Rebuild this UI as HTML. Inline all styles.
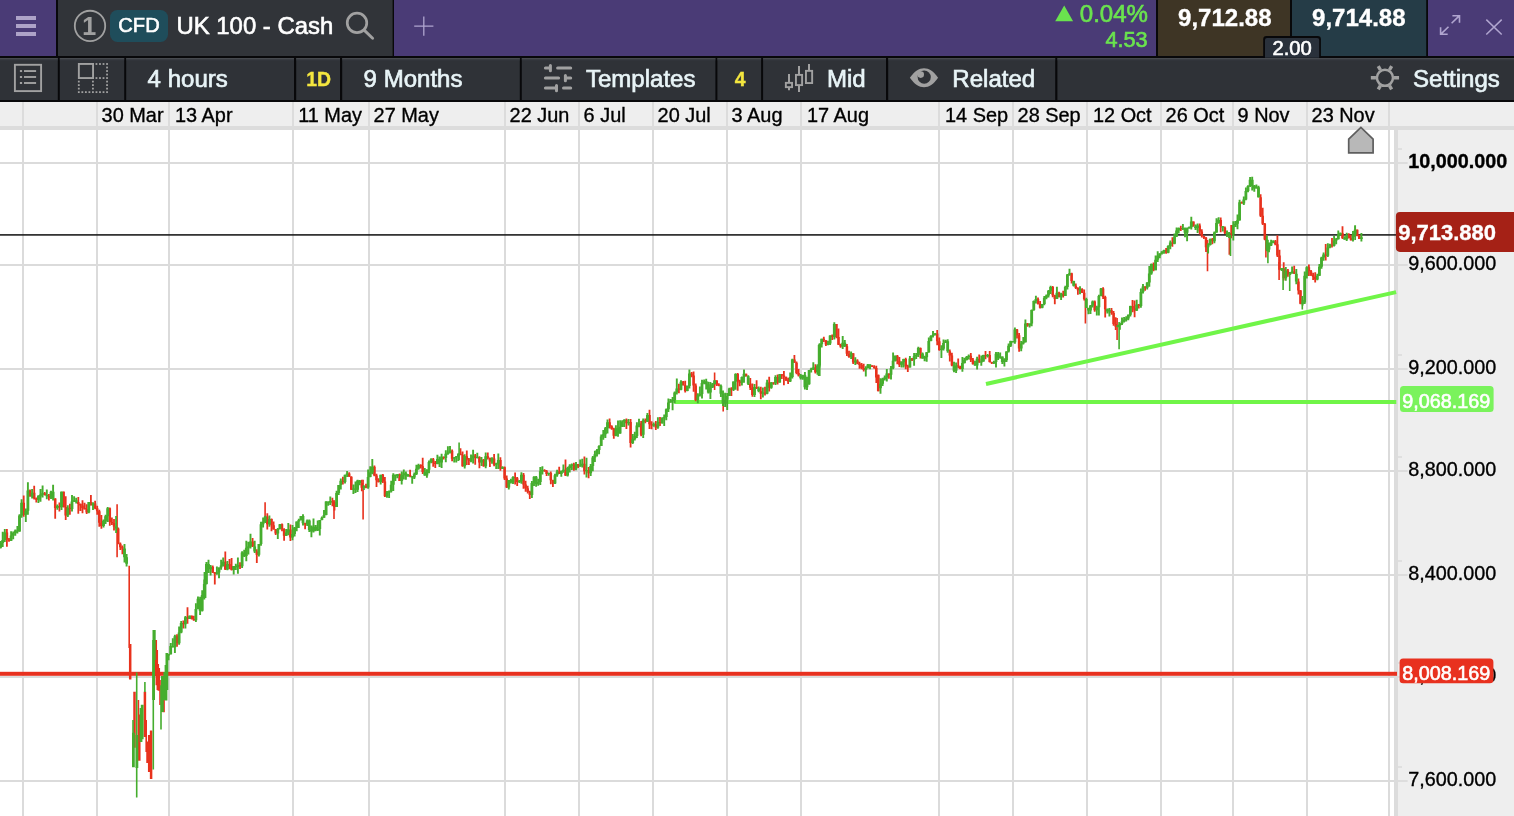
<!DOCTYPE html>
<html lang="en">
<head>
<meta charset="utf-8">
<title>UK 100 - Cash</title>
<style>
html,body{margin:0;padding:0;background:#ffffff;}
body{width:1514px;height:816px;overflow:hidden;position:relative;font-family:"Liberation Sans",Arial,Helvetica,sans-serif;}
</style>
</head>
<body>
<svg width="1514" height="816" viewBox="0 0 1514 816" style="position:absolute;left:0;top:0;display:block" font-family="Liberation Sans, Arial, Helvetica, sans-serif">
<rect x="0" y="0" width="1514" height="816" fill="#ffffff"/>
<rect x="0" y="0" width="1514" height="58" fill="#08080a"/>
<rect x="0" y="0" width="56" height="56" fill="#4a3b76"/>
<rect x="58" y="0" width="334.6" height="56" fill="#313439"/>
<rect x="394" y="0" width="762" height="56" fill="#4a3b76"/>
<rect x="1158" y="0" width="132" height="56" fill="#3e3525"/>
<rect x="1292" y="0" width="134.2" height="56" fill="#253c47"/>
<rect x="1428" y="0" width="86" height="56" fill="#4a3b76"/>
<rect x="16" y="16" width="20" height="4" fill="#aea3c8"/>
<rect x="16" y="24" width="20" height="4" fill="#aea3c8"/>
<rect x="16" y="32" width="20" height="4" fill="#aea3c8"/>
<circle cx="90" cy="25.95" r="15.2" fill="none" stroke="#a1a1a1" stroke-width="1.8"/>
<text stroke="#a1a1a1" x="89.2" y="35.0" font-size="25" font-weight="bold" fill="#a1a1a1" text-anchor="middle" stroke-width="0.1">1</text>
<rect x="110" y="10" width="58" height="32" rx="7.5" fill="#1f4d5b"/>
<text stroke="#ffffff" stroke-width="0.6" x="139" y="32.05" font-size="20.1" fill="#ffffff" text-anchor="middle">CFD</text>
<text stroke="#ffffff" stroke-width="0.6" x="176.5" y="34.2" font-size="23.9" fill="#ffffff">UK 100 - Cash</text>
<circle cx="357" cy="22.9" r="9.75" fill="none" stroke="#a1a1a1" stroke-width="2.7"/>
<path d="M364.4 30.4L372.6 38.2" stroke="#a1a1a1" stroke-width="2.9" stroke-linecap="round" fill="none"/>
<path d="M414.2 26.2H433.4M423.8 16.6V35.8" stroke="#b0a5cf" stroke-width="1.3" fill="none"/>
<path d="M1055.2 21.2L1064.2 5.6L1073.1 21.2Z" fill="#6ae34e"/>
<text stroke="#6ae34e" stroke-width="0.65" x="1148.0" y="21.9" font-size="24.05" fill="#6ae34e" text-anchor="end">0.04%</text>
<text stroke="#6ae34e" stroke-width="0.65" x="1147.6" y="47.3" font-size="21.7" fill="#6ae34e" text-anchor="end">4.53</text>
<text stroke="#ffffff" stroke-width="0.35" x="1224.8" y="25.9" font-size="24" font-weight="bold" fill="#ffffff" text-anchor="middle">9,712.88</text>
<text stroke="#ffffff" stroke-width="0.35" x="1358.8" y="25.9" font-size="24" font-weight="bold" fill="#ffffff" text-anchor="middle">9,714.88</text>
<path d="M1263.2 58V39.2Q1263.2 36 1266.4 36H1317.7Q1320.9 36 1320.9 39.2V58Z" fill="#08080a"/>
<path d="M1265 57.8V40Q1265 38 1267 38H1317.2Q1319.2 38 1319.2 40V57.8Z" fill="#2a313b"/>
<text stroke="#ffffff" stroke-width="0.6" x="1292.1" y="55.0" font-size="20.2" fill="#ffffff" text-anchor="middle">2.00</text>
<path d="M1451.6 23.3L1459.2 15.9M1452.4 15.7H1459.5V22.8M1448.5 26.7L1440.9 34.1M1440.6 27.2V34.3H1447.7" stroke="#b0a5cf" stroke-width="1.6" fill="none"/>
<path d="M1486.3 19.6L1501.7 34.5M1501.7 19.6L1486.3 34.5" stroke="#b0a5cf" stroke-width="1.5" fill="none"/>
<rect x="0" y="58" width="1514" height="44" fill="#08080a"/>
<rect x="0" y="58" width="57.8" height="42" fill="#2f3237"/>
<rect x="0" y="58" width="57.8" height="1.3" fill="#46494e"/>
<rect x="0" y="59.3" width="57.8" height="1" fill="#3b3e43"/>
<rect x="59.8" y="58" width="64.4" height="42" fill="#2f3237"/>
<rect x="59.8" y="58" width="64.4" height="1.3" fill="#46494e"/>
<rect x="59.8" y="59.3" width="64.4" height="1" fill="#3b3e43"/>
<rect x="126.2" y="58" width="167.8" height="42" fill="#2f3237"/>
<rect x="126.2" y="58" width="167.8" height="1.3" fill="#46494e"/>
<rect x="126.2" y="59.3" width="167.8" height="1" fill="#3b3e43"/>
<rect x="296.2" y="58" width="43.8" height="42" fill="#2f3237"/>
<rect x="296.2" y="58" width="43.8" height="1.3" fill="#46494e"/>
<rect x="296.2" y="59.3" width="43.8" height="1" fill="#3b3e43"/>
<rect x="342.2" y="58" width="177.6" height="42" fill="#2f3237"/>
<rect x="342.2" y="58" width="177.6" height="1.3" fill="#46494e"/>
<rect x="342.2" y="59.3" width="177.6" height="1" fill="#3b3e43"/>
<rect x="521.8" y="58" width="193.6" height="42" fill="#2f3237"/>
<rect x="521.8" y="58" width="193.6" height="1.3" fill="#46494e"/>
<rect x="521.8" y="59.3" width="193.6" height="1" fill="#3b3e43"/>
<rect x="717.4" y="58" width="43.7" height="42" fill="#2f3237"/>
<rect x="717.4" y="58" width="43.7" height="1.3" fill="#46494e"/>
<rect x="717.4" y="59.3" width="43.7" height="1" fill="#3b3e43"/>
<rect x="763.1" y="58" width="122.9" height="42" fill="#2f3237"/>
<rect x="763.1" y="58" width="122.9" height="1.3" fill="#46494e"/>
<rect x="763.1" y="59.3" width="122.9" height="1" fill="#3b3e43"/>
<rect x="888.2" y="58" width="167.0" height="42" fill="#2f3237"/>
<rect x="888.2" y="58" width="167.0" height="1.3" fill="#46494e"/>
<rect x="888.2" y="59.3" width="167.0" height="1" fill="#3b3e43"/>
<rect x="1057.4" y="58" width="456.6" height="42" fill="#2f3237"/>
<rect x="1057.4" y="58" width="456.6" height="1.3" fill="#46494e"/>
<rect x="1057.4" y="59.3" width="456.6" height="1" fill="#3b3e43"/>
<rect x="14.9" y="64.8" width="26.2" height="26.3" fill="none" stroke="#a1a1a1" stroke-width="1.9"/>
<rect x="19.9" y="70.05" width="2.2" height="2" fill="#a1a1a1"/>
<rect x="24" y="70.10" width="12.1" height="1.9" fill="#a1a1a1"/>
<rect x="19.9" y="76.00" width="2.2" height="2" fill="#a1a1a1"/>
<rect x="24" y="76.05" width="12.1" height="1.9" fill="#a1a1a1"/>
<rect x="19.9" y="82.00" width="2.2" height="2" fill="#a1a1a1"/>
<rect x="24" y="82.05" width="12.1" height="1.9" fill="#a1a1a1"/>
<rect x="78.85" y="63.95" width="14.2" height="14.1" fill="none" stroke="#a1a1a1" stroke-width="1.9"/>
<rect x="77.90" y="80.68" width="1.8" height="1.8" fill="#a1a1a1"/>
<rect x="77.90" y="84.20" width="1.8" height="1.8" fill="#a1a1a1"/>
<rect x="77.90" y="87.71" width="1.8" height="1.8" fill="#a1a1a1"/>
<rect x="77.90" y="91.23" width="1.8" height="1.8" fill="#a1a1a1"/>
<rect x="81.43" y="91.23" width="1.8" height="1.8" fill="#a1a1a1"/>
<rect x="84.96" y="91.23" width="1.8" height="1.8" fill="#a1a1a1"/>
<rect x="88.49" y="91.23" width="1.8" height="1.8" fill="#a1a1a1"/>
<rect x="92.02" y="80.68" width="1.8" height="1.8" fill="#a1a1a1"/>
<rect x="92.02" y="84.20" width="1.8" height="1.8" fill="#a1a1a1"/>
<rect x="92.02" y="87.71" width="1.8" height="1.8" fill="#a1a1a1"/>
<rect x="92.02" y="91.23" width="1.8" height="1.8" fill="#a1a1a1"/>
<rect x="95.55" y="63.10" width="1.8" height="1.8" fill="#a1a1a1"/>
<rect x="95.55" y="77.16" width="1.8" height="1.8" fill="#a1a1a1"/>
<rect x="95.55" y="91.23" width="1.8" height="1.8" fill="#a1a1a1"/>
<rect x="99.08" y="63.10" width="1.8" height="1.8" fill="#a1a1a1"/>
<rect x="99.08" y="77.16" width="1.8" height="1.8" fill="#a1a1a1"/>
<rect x="99.08" y="91.23" width="1.8" height="1.8" fill="#a1a1a1"/>
<rect x="102.61" y="63.10" width="1.8" height="1.8" fill="#a1a1a1"/>
<rect x="102.61" y="77.16" width="1.8" height="1.8" fill="#a1a1a1"/>
<rect x="102.61" y="91.23" width="1.8" height="1.8" fill="#a1a1a1"/>
<rect x="106.14" y="63.10" width="1.8" height="1.8" fill="#a1a1a1"/>
<rect x="106.14" y="66.62" width="1.8" height="1.8" fill="#a1a1a1"/>
<rect x="106.14" y="70.13" width="1.8" height="1.8" fill="#a1a1a1"/>
<rect x="106.14" y="73.65" width="1.8" height="1.8" fill="#a1a1a1"/>
<rect x="106.14" y="77.16" width="1.8" height="1.8" fill="#a1a1a1"/>
<rect x="106.14" y="80.68" width="1.8" height="1.8" fill="#a1a1a1"/>
<rect x="106.14" y="84.20" width="1.8" height="1.8" fill="#a1a1a1"/>
<rect x="106.14" y="87.71" width="1.8" height="1.8" fill="#a1a1a1"/>
<rect x="106.14" y="91.23" width="1.8" height="1.8" fill="#a1a1a1"/>
<text stroke="#e8f4f7" stroke-width="0.65" x="147.6" y="86.9" font-size="24.05" fill="#e8f4f7">4 hours</text>
<text stroke="#f4e63f" stroke-width="0.35" x="318.6" y="85.8" font-size="19.4" font-weight="bold" fill="#f4e63f" text-anchor="middle">1D</text>
<text stroke="#e8f4f7" stroke-width="0.65" x="363.6" y="86.9" font-size="24.05" fill="#e8f4f7">9 Months</text>
<path d="M545.4 68H550.4M550.4 65.4V70.7M557.6 68H570.7 M545.4 78H558.6M565.4 75.4V80.7M565.4 78H570.7 M545.4 88.1H556.5M556.5 85.5V90.7M563.5 88.1H570.7" stroke="#a1a1a1" stroke-width="3.0" stroke-linecap="round" fill="none"/>
<text stroke="#e8f4f7" stroke-width="0.65" x="585.9" y="86.9" font-size="24.05" fill="#e8f4f7">Templates</text>
<text stroke="#f4e63f" stroke-width="0.35" x="740.2" y="85.8" font-size="19.4" font-weight="bold" fill="#f4e63f" text-anchor="middle">4</text>
<rect x="785.85" y="82.85" width="6.2" height="4.3" fill="none" stroke="#a1a1a1" stroke-width="1.9"/>
<rect x="795.95" y="74.9" width="6.15" height="10.2" fill="none" stroke="#a1a1a1" stroke-width="1.9"/>
<rect x="805.95" y="70.85" width="6.2" height="12.2" fill="none" stroke="#a1a1a1" stroke-width="1.9"/>
<path d="M789 73.95V82M789 88V90.2M799 66V74M799 86V92M809 63.9V70" stroke="#a1a1a1" stroke-width="2" fill="none"/>
<text stroke="#e8f4f7" stroke-width="0.65" x="827" y="86.9" font-size="24.05" fill="#e8f4f7">Mid</text>
<path d="M909.9 77.8C914.5 71 919 68.3 924 68.3C929 68.3 933.5 71 938.1 77.8C933.5 84.6 929 87.3 924 87.3C919 87.3 914.5 84.6 909.9 77.8Z" fill="#a1a1a1"/>
<circle cx="924.2" cy="77.05" r="6.6" fill="#2f3237"/>
<circle cx="920.7" cy="74.6" r="3.3" fill="#a1a1a1"/>
<text stroke="#e8f4f7" stroke-width="0.65" x="952.3" y="86.9" font-size="24.05" fill="#e8f4f7">Related</text>
<circle cx="1384.95" cy="77.8" r="8.05" fill="none" stroke="#a1a1a1" stroke-width="2.5"/>
<path d="M1393.95 77.80L1399.05 77.80M1389.45 85.59L1391.65 89.40M1380.45 85.59L1378.25 89.40M1375.95 77.80L1370.85 77.80M1380.45 70.01L1378.25 66.20M1389.45 70.01L1391.65 66.20" stroke="#a1a1a1" stroke-width="3.4" fill="none"/>
<text stroke="#e8f4f7" stroke-width="0.65" x="1413.0" y="86.9" font-size="24.05" fill="#e8f4f7">Settings</text>
<rect x="0" y="102" width="1514" height="24" fill="#eeeeee"/>
<rect x="0" y="126" width="1514" height="4" fill="#dcdcdc"/>
<rect x="1398" y="130" width="116" height="686" fill="#eeeeee"/>
<rect x="1394" y="130" width="4" height="686" fill="#dcdcdc"/>
<rect x="22.0" y="102" width="2" height="24" fill="#dcdcdc"/>
<rect x="22.0" y="130" width="2" height="686" fill="#dbdbdb"/>
<rect x="96.0" y="102" width="2" height="24" fill="#dcdcdc"/>
<rect x="96.0" y="130" width="2" height="686" fill="#dbdbdb"/>
<rect x="168.0" y="102" width="2" height="24" fill="#dcdcdc"/>
<rect x="168.0" y="130" width="2" height="686" fill="#dbdbdb"/>
<rect x="292.0" y="102" width="2" height="24" fill="#dcdcdc"/>
<rect x="292.0" y="130" width="2" height="686" fill="#dbdbdb"/>
<rect x="368.0" y="102" width="2" height="24" fill="#dcdcdc"/>
<rect x="368.0" y="130" width="2" height="686" fill="#dbdbdb"/>
<rect x="504.0" y="102" width="2" height="24" fill="#dcdcdc"/>
<rect x="504.0" y="130" width="2" height="686" fill="#dbdbdb"/>
<rect x="578.0" y="102" width="2" height="24" fill="#dcdcdc"/>
<rect x="578.0" y="130" width="2" height="686" fill="#dbdbdb"/>
<rect x="652.0" y="102" width="2" height="24" fill="#dcdcdc"/>
<rect x="652.0" y="130" width="2" height="686" fill="#dbdbdb"/>
<rect x="726.0" y="102" width="2" height="24" fill="#dcdcdc"/>
<rect x="726.0" y="130" width="2" height="686" fill="#dbdbdb"/>
<rect x="800.0" y="102" width="2" height="24" fill="#dcdcdc"/>
<rect x="800.0" y="130" width="2" height="686" fill="#dbdbdb"/>
<rect x="938.0" y="102" width="2" height="24" fill="#dcdcdc"/>
<rect x="938.0" y="130" width="2" height="686" fill="#dbdbdb"/>
<rect x="1012.0" y="102" width="2" height="24" fill="#dcdcdc"/>
<rect x="1012.0" y="130" width="2" height="686" fill="#dbdbdb"/>
<rect x="1086.0" y="102" width="2" height="24" fill="#dcdcdc"/>
<rect x="1086.0" y="130" width="2" height="686" fill="#dbdbdb"/>
<rect x="1160.0" y="102" width="2" height="24" fill="#dcdcdc"/>
<rect x="1160.0" y="130" width="2" height="686" fill="#dbdbdb"/>
<rect x="1232.0" y="102" width="2" height="24" fill="#dcdcdc"/>
<rect x="1232.0" y="130" width="2" height="686" fill="#dbdbdb"/>
<rect x="1306.0" y="102" width="2" height="24" fill="#dcdcdc"/>
<rect x="1306.0" y="130" width="2" height="686" fill="#dbdbdb"/>
<rect x="1388.0" y="102" width="2" height="24" fill="#dcdcdc"/>
<rect x="1388.0" y="130" width="2" height="686" fill="#dbdbdb"/>
<rect x="0" y="162" width="1394" height="2" fill="#dbdbdb"/>
<rect x="1398" y="162" width="9.6" height="2" fill="#dddddd"/>
<rect x="1398" y="148" width="4" height="2" fill="#dfdfdf"/>
<rect x="0" y="264" width="1394" height="2" fill="#dbdbdb"/>
<rect x="1398" y="264" width="9.6" height="2" fill="#dddddd"/>
<rect x="1398" y="250" width="4" height="2" fill="#dfdfdf"/>
<rect x="0" y="368" width="1394" height="2" fill="#dbdbdb"/>
<rect x="1398" y="368" width="9.6" height="2" fill="#dddddd"/>
<rect x="1398" y="354" width="4" height="2" fill="#dfdfdf"/>
<rect x="0" y="470" width="1394" height="2" fill="#dbdbdb"/>
<rect x="1398" y="470" width="9.6" height="2" fill="#dddddd"/>
<rect x="1398" y="456" width="4" height="2" fill="#dfdfdf"/>
<rect x="0" y="574" width="1394" height="2" fill="#dbdbdb"/>
<rect x="1398" y="574" width="9.6" height="2" fill="#dddddd"/>
<rect x="1398" y="560" width="4" height="2" fill="#dfdfdf"/>
<rect x="0" y="676" width="1394" height="2" fill="#dbdbdb"/>
<rect x="1398" y="676" width="9.6" height="2" fill="#dddddd"/>
<rect x="1398" y="662" width="4" height="2" fill="#dfdfdf"/>
<rect x="0" y="780" width="1394" height="2" fill="#dbdbdb"/>
<rect x="1398" y="780" width="9.6" height="2" fill="#dddddd"/>
<rect x="1398" y="766" width="4" height="2" fill="#dfdfdf"/>
<text stroke="#000000" stroke-width="0.35" x="101.6" y="121.6" font-size="19.9" fill="#000000">30 Mar</text>
<text stroke="#000000" stroke-width="0.35" x="175.0" y="121.6" font-size="19.9" fill="#000000">13 Apr</text>
<text stroke="#000000" stroke-width="0.35" x="298.2" y="121.6" font-size="19.9" fill="#000000">11 May</text>
<text stroke="#000000" stroke-width="0.35" x="373.6" y="121.6" font-size="19.9" fill="#000000">27 May</text>
<text stroke="#000000" stroke-width="0.35" x="509.6" y="121.6" font-size="19.9" fill="#000000">22 Jun</text>
<text stroke="#000000" stroke-width="0.35" x="583.6" y="121.6" font-size="19.9" fill="#000000">6 Jul</text>
<text stroke="#000000" stroke-width="0.35" x="657.6" y="121.6" font-size="19.9" fill="#000000">20 Jul</text>
<text stroke="#000000" stroke-width="0.35" x="731.6" y="121.6" font-size="19.9" fill="#000000">3 Aug</text>
<text stroke="#000000" stroke-width="0.35" x="807.0" y="121.6" font-size="19.9" fill="#000000">17 Aug</text>
<text stroke="#000000" stroke-width="0.35" x="945.0" y="121.6" font-size="19.9" fill="#000000">14 Sep</text>
<text stroke="#000000" stroke-width="0.35" x="1017.6" y="121.6" font-size="19.9" fill="#000000">28 Sep</text>
<text stroke="#000000" stroke-width="0.35" x="1093.0" y="121.6" font-size="19.9" fill="#000000">12 Oct</text>
<text stroke="#000000" stroke-width="0.35" x="1165.6" y="121.6" font-size="19.9" fill="#000000">26 Oct</text>
<text stroke="#000000" stroke-width="0.35" x="1237.6" y="121.6" font-size="19.9" fill="#000000">9 Nov</text>
<text stroke="#000000" stroke-width="0.35" x="1311.6" y="121.6" font-size="19.9" fill="#000000">23 Nov</text>
<text stroke="#000000" stroke-width="0.35" x="1408.2" y="167.8" font-size="19.8" fill="#000000" font-weight="bold">10,000.000</text>
<text stroke="#000000" stroke-width="0.35" x="1408.2" y="269.8" font-size="19.8" fill="#000000">9,600.000</text>
<text stroke="#000000" stroke-width="0.35" x="1408.2" y="373.8" font-size="19.8" fill="#000000">9,200.000</text>
<text stroke="#000000" stroke-width="0.35" x="1408.2" y="475.8" font-size="19.8" fill="#000000">8,800.000</text>
<text stroke="#000000" stroke-width="0.35" x="1408.2" y="579.8" font-size="19.8" fill="#000000">8,400.000</text>
<text stroke="#000000" stroke-width="0.35" x="1408.2" y="681.8" font-size="19.8" fill="#000000">8,000.000</text>
<text stroke="#000000" stroke-width="0.35" x="1408.2" y="785.8" font-size="19.8" fill="#000000">7,600.000</text>
<path d="M1348.7 152.9V139.2L1360.9 127.4L1373.1 139.2V152.9Z" fill="#b8b8b8" stroke="#5e5e5e" stroke-width="1.7"/>
<rect x="0" y="234.1" width="1397" height="1.6" fill="#1e1e1e"/>
<rect x="674.3" y="400.0" width="722" height="4" fill="#70f548"/>
<path d="M986 384L1396.1 292.1" stroke="#70f548" stroke-width="4.0" fill="none"/>
<rect x="0" y="671.8" width="1397" height="4" fill="#e8311f"/>
<defs><filter id="soft" x="-2%" y="-2%" width="104%" height="104%"><feGaussianBlur stdDeviation="0.42"/></filter></defs>
<g filter="url(#soft)">
<path d="M6.9 528.9V546.7M9.0 537.9V541.7M23.7 495.5V516.7M30.0 489.6V496.6M34.2 485.7V499.4M36.3 497.4V502.4M44.7 491.9V495.6M48.9 494.1V500.5M55.2 498.3V518.7M59.4 502.6V511.6M63.6 491.5V507.6M65.7 496.3V520.0M69.9 503.8V514.8M78.3 496.9V513.7M80.4 503.5V511.0M82.5 500.3V513.3M84.6 502.8V509.5M86.7 504.3V513.9M90.9 495.1V505.4M95.1 500.7V509.3M97.2 505.7V514.8M99.3 509.7V526.7M101.4 515.1V528.8M109.8 507.6V525.7M111.9 517.6V525.1M114.0 519.0V530.4M118.2 527.4V544.2M120.3 542.4V549.9M122.4 545.6V554.2M177.0 634.3V646.7M183.3 620.6V628.5M187.5 607.2V623.8M191.7 615.6V619.5M193.8 615.8V620.8M212.7 565.6V572.9M214.8 571.9V584.5M225.3 551.5V570.0M229.5 559.0V569.3M231.6 558.1V570.5M240.0 562.3V569.0M252.6 537.9V547.1M256.8 549.2V563.0M267.3 513.2V529.6M271.5 518.4V531.3M273.6 521.4V529.5M275.7 529.0V535.1M282.0 523.6V531.2M284.1 528.3V540.8M290.4 524.5V540.9M305.1 522.8V529.3M332.4 497.7V506.2M334.5 501.2V510.6M342.9 476.8V484.5M349.2 472.2V476.8M351.3 476.2V490.1M361.8 479.7V491.2M366.0 483.8V488.2M374.4 465.6V476.3M376.5 473.7V487.0M378.6 478.3V482.4M382.8 474.0V483.0M384.9 476.9V497.0M399.6 473.5V481.1M410.1 469.8V477.2M420.6 464.3V468.4M422.7 457.7V474.0M433.2 458.1V466.8M435.3 461.1V467.9M443.7 456.5V459.6M452.1 449.5V461.3M460.5 448.2V455.3M462.6 451.5V466.8M466.8 450.4V464.9M468.9 458.1V465.1M475.2 453.9V464.7M479.4 456.2V468.2M483.6 459.1V466.8M487.8 452.6V459.5M489.9 457.7V466.9M494.1 454.0V466.3M500.4 457.3V470.8M504.6 466.4V479.9M506.7 475.6V488.0M515.1 472.5V484.6M517.2 476.9V485.9M523.5 473.1V488.8M525.6 480.7V491.8M527.7 485.7V493.4M529.8 490.8V499.1M544.5 469.3V471.7M546.6 469.9V476.0M550.8 471.4V484.2M552.9 479.7V487.0M559.2 466.8V474.0M565.5 459.6V475.9M573.9 462.8V470.7M578.1 464.0V468.1M584.4 456.5V474.4M588.6 466.9V478.3M609.6 418.6V428.4M611.7 425.3V429.7M613.8 427.8V438.7M626.4 418.4V429.0M630.6 418.9V447.4M641.1 420.9V436.2M645.3 418.6V423.3M649.5 409.8V429.1M651.6 421.2V429.3M655.8 421.0V430.1M660.0 416.9V425.9M678.9 383.8V393.3M683.1 381.0V385.4M685.2 380.7V392.4M691.5 372.0V377.3M693.6 371.4V391.7M695.7 383.5V401.2M716.7 380.3V386.1M718.8 383.2V386.3M731.4 387.3V396.1M737.7 373.1V390.7M739.8 379.8V386.3M746.1 373.7V376.4M750.3 378.0V390.0M752.4 383.4V396.7M756.6 380.3V389.0M760.8 386.7V399.3M765.0 386.7V395.4M769.2 376.8V391.6M773.4 382.3V384.7M777.6 374.6V384.4M781.8 374.0V379.0M783.9 371.1V385.3M786.0 376.7V381.1M788.1 377.8V384.0M794.4 354.9V362.8M796.5 361.5V374.2M798.6 368.9V376.6M815.4 364.3V373.6M823.8 336.7V342.1M825.9 340.2V346.1M832.2 334.5V340.0M836.4 323.9V338.2M838.5 328.5V345.1M840.6 343.8V347.8M846.9 344.0V356.0M849.0 350.7V357.7M853.2 353.3V364.1M857.4 359.3V364.3M859.5 361.7V368.8M861.6 363.1V369.2M863.7 363.8V371.5M872.1 365.3V367.1M874.2 365.3V368.8M876.3 365.8V382.9M878.4 374.6V391.2M888.9 373.4V378.8M897.3 355.1V364.3M899.4 357.1V366.9M905.7 357.7V369.2M907.8 364.8V372.1M912.0 358.0V361.1M920.4 347.6V358.5M937.2 330.1V345.2M939.3 337.4V350.8M949.8 349.6V361.5M951.9 352.7V366.3M958.2 358.4V368.3M960.3 365.7V369.3M970.8 353.1V362.0M972.9 358.0V364.4M979.2 354.4V362.8M985.5 351.1V359.2M989.7 350.9V362.6M991.8 361.8V363.9M1017.0 329.0V338.5M1019.1 333.1V351.8M1027.5 322.9V326.7M1038.0 297.6V304.5M1040.1 300.9V308.4M1052.7 286.1V297.3M1054.8 294.7V304.2M1059.0 291.7V297.3M1063.2 290.7V297.6M1071.6 272.8V283.5M1075.8 283.4V289.1M1077.9 287.3V294.8M1082.1 288.2V292.9M1084.2 289.6V300.4M1094.7 300.5V311.7M1103.1 287.2V298.9M1105.2 295.8V317.6M1111.5 308.1V314.7M1113.6 311.1V325.8M1115.7 317.2V330.1M1132.5 300.1V312.3M1134.6 300.4V317.2M1138.8 303.9V308.6M1145.1 286.3V290.8M1153.5 262.5V271.3M1166.1 248.0V253.8M1172.4 237.2V246.7M1180.8 225.8V231.1M1193.4 221.4V226.6M1199.7 223.6V234.6M1201.8 229.2V237.4M1203.9 235.8V239.0M1206.0 237.0V251.9M1212.3 238.1V244.3M1220.7 217.6V232.2M1224.9 226.6V234.1M1231.2 225.0V238.3M1241.7 201.4V203.5M1260.6 194.3V216.9M1262.7 207.8V225.0M1264.8 222.9V240.3M1275.3 239.9V245.2M1277.4 235.2V256.9M1279.5 249.7V269.8M1283.7 262.3V280.4M1287.9 269.1V276.7M1294.2 265.7V274.1M1298.4 278.6V294.6M1300.5 290.1V304.3M1308.9 264.4V276.1M1311.0 270.0V276.1M1313.1 272.7V279.9M1315.2 272.3V282.4M1325.7 243.9V260.5M1332.0 237.9V247.5M1342.5 226.3V239.1M1348.8 233.3V238.6M1350.9 234.8V240.6M1357.2 229.6V236.3M1359.3 234.7V239.1" stroke="#e8311f" stroke-width="1.8" fill="none"/>
<path d="M6.9 532.4V539.5M9.0 539.5V540.7M23.7 502.7V514.7M30.0 490.5V496.4M34.2 492.8V498.6M36.3 498.6V499.8M44.7 493.3V495.1M48.9 496.3V497.5M55.2 498.5V508.0M59.4 506.1V507.3M63.6 491.7V507.0M65.7 507.0V515.5M69.9 507.8V509.0M78.3 502.0V504.0M80.4 504.0V505.4M82.5 505.4V508.0M84.6 508.0V509.3M86.7 509.3V512.5M90.9 502.1V505.2M95.1 503.4V508.2M97.2 508.2V511.2M99.3 511.2V522.7M101.4 522.7V526.0M109.8 508.2V521.9M111.9 521.9V523.1M114.0 523.1V526.4M118.2 528.5V543.7M120.3 543.7V547.2M122.4 547.2V548.6M177.0 636.2V643.3M183.3 623.0V624.2M187.5 617.2V618.9M191.7 615.7V619.1M193.8 619.1V620.3M212.7 566.8V572.6M214.8 572.6V573.8M225.3 561.8V569.4M229.5 564.0V566.3M231.6 566.3V570.0M240.0 565.0V566.2M252.6 541.5V546.5M256.8 551.5V554.8M267.3 516.5V524.2M271.5 519.0V525.3M273.6 525.3V529.5M275.7 529.5V533.4M282.0 524.3V529.3M284.1 529.3V535.7M290.4 529.4V537.6M305.1 523.2V524.4M332.4 501.0V502.2M334.5 502.2V506.9M342.9 480.7V481.9M349.2 473.6V476.7M351.3 476.7V489.7M361.8 483.1V487.7M366.0 486.2V487.4M374.4 466.7V475.6M376.5 475.6V480.3M378.6 480.3V482.0M382.8 474.8V481.5M384.9 481.5V496.2M399.6 474.3V481.1M410.1 475.1V476.3M420.6 465.0V466.2M422.7 466.2V471.9M433.2 459.3V462.8M435.3 462.8V464.0M443.7 456.8V458.0M452.1 450.8V458.7M460.5 453.7V454.9M462.6 454.9V466.3M466.8 456.2V459.5M468.9 459.5V460.7M475.2 455.4V458.1M479.4 456.9V462.6M483.6 459.7V466.3M487.8 456.2V457.8M489.9 457.8V461.6M494.1 458.5V464.8M500.4 460.1V468.7M504.6 467.2V478.4M506.7 478.4V487.4M515.1 477.1V478.3M517.2 478.3V481.9M523.5 474.8V484.4M525.6 484.4V488.3M527.7 488.3V491.8M529.8 491.8V495.0M544.5 470.1V471.3M546.6 471.3V474.1M550.8 472.9V480.3M552.9 480.3V483.5M559.2 471.6V473.9M565.5 469.7V475.5M573.9 464.5V469.4M578.1 464.1V466.5M584.4 463.7V471.2M588.6 470.0V473.3M609.6 422.3V426.2M611.7 426.2V428.7M613.8 428.7V435.8M626.4 419.7V423.3M630.6 422.1V443.0M641.1 423.6V434.8M645.3 420.3V421.8M649.5 415.0V424.2M651.6 424.2V425.4M655.8 424.2V427.6M660.0 421.9V423.1M678.9 388.5V389.7M683.1 381.7V385.3M685.2 385.3V391.0M691.5 373.4V375.6M693.6 375.6V385.6M695.7 385.6V400.0M716.7 380.4V384.5M718.8 384.5V385.7M731.4 388.6V389.8M737.7 374.0V381.5M739.8 381.5V382.7M746.1 373.8V376.2M750.3 383.7V387.8M752.4 387.8V395.0M756.6 387.1V388.3M760.8 391.3V393.8M765.0 392.6V393.8M769.2 382.4V387.8M773.4 382.4V383.6M777.6 376.9V382.4M781.8 374.3V375.6M783.9 375.6V376.8M786.0 376.8V379.8M788.1 379.8V381.5M794.4 359.5V362.7M796.5 362.7V373.1M798.6 373.1V375.4M815.4 367.6V372.3M823.8 338.8V340.3M825.9 340.3V344.6M832.2 335.5V337.0M836.4 324.0V336.9M838.5 336.9V344.8M840.6 344.8V346.5M846.9 346.2V353.8M849.0 353.8V356.9M853.2 353.3V362.4M857.4 360.5V363.7M859.5 363.7V364.9M861.6 364.9V368.0M863.7 368.0V370.1M872.1 365.6V366.8M874.2 366.8V368.0M876.3 368.0V377.6M878.4 377.6V388.2M888.9 373.6V374.8M897.3 355.7V360.7M899.4 360.7V364.7M905.7 359.1V366.3M907.8 366.3V367.5M912.0 358.5V359.7M920.4 348.1V353.4M937.2 333.5V341.3M939.3 341.3V350.0M949.8 351.2V355.5M951.9 355.5V365.5M958.2 365.4V366.6M960.3 366.6V368.9M970.8 355.8V359.8M972.9 359.8V364.3M979.2 358.7V362.6M985.5 355.1V356.3M989.7 355.0V361.9M991.8 361.9V363.2M1017.0 329.4V335.3M1019.1 335.3V348.4M1027.5 323.4V325.4M1038.0 299.1V303.7M1040.1 303.7V307.7M1052.7 287.0V295.2M1054.8 295.2V298.9M1059.0 292.7V297.3M1063.2 293.7V296.0M1071.6 273.2V281.0M1075.8 285.8V288.1M1077.9 288.1V290.2M1082.1 289.0V292.8M1084.2 292.8V299.1M1094.7 301.5V310.2M1103.1 288.4V296.9M1105.2 296.9V309.2M1111.5 310.3V313.0M1113.6 313.0V324.1M1115.7 324.1V326.8M1132.5 305.9V308.3M1134.6 308.3V310.6M1138.8 304.5V305.9M1145.1 286.6V287.8M1153.5 264.0V270.2M1166.1 250.1V252.7M1172.4 242.6V243.8M1180.8 228.1V229.3M1193.4 221.6V226.5M1199.7 225.4V231.4M1201.8 231.4V236.1M1203.9 236.1V237.7M1206.0 237.7V247.2M1212.3 239.0V241.3M1220.7 219.9V226.3M1224.9 227.8V233.2M1231.2 233.0V234.2M1241.7 202.2V203.4M1260.6 197.2V215.8M1262.7 215.8V223.8M1264.8 223.8V239.6M1275.3 241.3V244.3M1277.4 244.3V255.5M1279.5 255.5V269.7M1283.7 268.3V278.3M1287.9 270.6V274.6M1294.2 271.6V273.8M1298.4 281.6V290.4M1300.5 290.4V303.8M1308.9 267.2V271.3M1311.0 271.3V274.7M1313.1 274.7V276.8M1315.2 276.8V279.6M1325.7 254.5V255.7M1332.0 244.5V245.7M1342.5 233.2V238.0M1348.8 235.4V238.1M1350.9 238.1V240.2M1357.2 229.7V235.5M1359.3 235.5V239.1M130.2 644.0V679.5M134.5 691.8V747.8M139.3 714.4V760.8M144.9 691.8V737.0M147.5 741.4V763.0M149.2 735.0V772.0M151.1 730.6V779.1M155.8 640.0V676.0M156.8 650.0V685.3M157.8 664.0V690.0M158.8 668.0V690.7M163.6 694.0V712.3M878.2 375.0V391.3" stroke="#e8311f" stroke-width="2.5" fill="none"/>
<path d="M129.2 565.7V648.0M138.4 700.0V750.0M146.2 720.0V752.0M160.0 680.0V705.0M117.1 504.3V557.3M265.1 502.2V520.0M334.0 500.0V519.0M363.1 479.7V519.4M714.6 372.4V390.0M723.2 395.0V411.5M1085.4 300.0V323.5M1117.1 318.0V340.0M1207.5 240.0V271.3M1229.3 232.0V254.7M1265.9 235.0V257.4M1279.1 262.0V280.0" stroke="#e8311f" stroke-width="1.6" fill="none"/>
<path d="M133.0 720.0V767.0M136.7 672.4V797.5M144.9 682.0V692.0M153.3 630.0V769.4M154.9 630.0V660.0M161.0 685.3V729.5M459.1 442.4V460.0M1119.1 322.0V349.3M1230.5 235.0V256.0M1267.9 240.0V263.3M1283.1 268.0V290.0M1289.7 272.0V291.0M1302.3 296.0V309.6M1355.2 226.3V240.0" stroke="#45ad2e" stroke-width="1.6" fill="none"/>
<path d="M0.6 540.9V548.6M2.7 531.8V546.9M4.8 529.0V541.9M11.1 531.3V541.1M13.2 531.5V539.2M15.3 529.5V535.8M17.4 526.0V533.6M19.5 514.3V531.7M21.6 499.2V517.8M25.8 508.6V522.1M27.9 482.3V514.7M32.1 489.0V498.4M38.4 495.3V503.1M40.5 489.1V501.8M42.6 485.4V497.6M46.8 489.5V499.3M51.0 490.8V499.0M53.1 484.8V500.6M57.3 504.5V509.8M61.5 491.5V510.1M67.8 505.2V517.0M72.0 495.0V511.4M74.1 496.3V502.1M76.2 497.8V503.6M88.8 502.0V513.3M93.0 502.2V510.1M103.5 519.4V527.5M105.6 514.8V524.0M107.7 507.0V521.9M116.1 515.9V533.0M124.5 543.9V562.5M126.6 554.0V566.5M168.6 654.2V660.2M170.7 643.0V654.5M172.8 638.2V647.6M174.9 634.8V653.0M179.1 626.5V644.8M181.2 621.0V633.3M185.4 616.0V628.4M189.6 615.5V619.1M195.9 603.3V622.0M198.0 596.6V609.3M200.1 596.8V615.1M202.2 590.3V611.5M204.3 579.5V599.6M206.4 562.0V584.5M208.5 559.7V573.0M210.6 564.9V575.4M216.9 566.5V574.8M219.0 567.5V578.2M221.1 559.7V569.7M223.2 557.5V566.5M227.4 561.1V570.3M233.7 565.9V574.6M235.8 563.7V570.1M237.9 557.6V573.8M242.1 551.2V568.0M244.2 549.8V557.1M246.3 540.7V561.3M248.4 541.8V554.5M250.5 533.8V548.4M254.7 540.8V553.0M258.9 544.0V556.4M261.0 521.7V545.7M263.1 517.5V527.6M265.2 515.8V523.0M269.4 515.6V526.7M277.8 527.9V538.9M279.9 523.9V529.4M286.2 529.1V535.9M288.3 523.0V535.3M292.5 524.9V540.2M294.6 526.9V536.5M296.7 521.4V531.3M298.8 518.7V528.0M300.9 516.0V520.4M303.0 514.3V525.5M307.2 519.6V526.1M309.3 519.6V532.1M311.4 525.6V537.2M313.5 518.5V532.6M315.6 525.1V531.2M317.7 520.5V531.0M319.8 519.9V535.4M321.9 516.6V520.3M324.0 509.9V517.8M326.1 501.3V515.2M328.2 501.5V505.8M330.3 496.4V504.9M336.6 490.7V507.1M338.7 485.0V495.1M340.8 478.4V489.4M345.0 474.7V483.6M347.1 470.9V476.9M353.4 484.4V494.0M355.5 481.4V493.1M357.6 479.8V491.9M359.7 480.0V485.2M363.9 485.2V490.0M368.1 469.6V488.7M370.2 466.2V477.3M372.3 459.0V474.3M380.7 474.7V484.6M387.0 490.9V497.7M389.1 490.4V498.0M391.2 480.7V492.6M393.3 473.3V490.9M395.4 474.4V481.1M397.5 474.1V478.2M401.7 471.4V484.4M403.8 469.4V479.4M405.9 471.4V479.7M408.0 474.1V476.8M412.2 476.0V483.8M414.3 472.5V479.0M416.4 464.7V475.1M418.5 463.7V469.8M424.8 467.9V475.8M426.9 469.3V477.7M429.0 460.4V473.3M431.1 458.2V463.2M437.4 454.8V464.3M439.5 456.5V466.9M441.6 453.8V468.1M445.8 450.3V462.3M447.9 446.2V454.7M450.0 446.0V453.6M454.2 457.1V462.4M456.3 455.9V462.5M458.4 453.2V461.1M464.7 454.3V468.6M471.0 454.5V462.2M473.1 449.8V463.6M477.3 452.7V458.4M481.5 456.9V465.9M485.7 452.4V468.3M492.0 457.3V463.7M496.2 462.7V468.9M498.3 453.5V469.0M502.5 466.3V468.9M508.8 479.9V489.4M510.9 478.7V483.6M513.0 476.2V484.1M519.3 480.0V483.1M521.4 472.3V483.8M531.9 481.0V498.1M534.0 476.3V486.0M536.1 475.9V486.8M538.2 478.7V485.7M540.3 467.0V485.1M542.4 466.2V474.4M548.7 472.6V475.7M555.0 473.7V484.0M557.1 469.7V476.8M561.3 470.5V476.7M563.4 464.5V472.8M567.6 466.8V476.5M569.7 464.3V472.5M571.8 463.6V470.0M576.0 461.9V470.2M580.2 459.6V466.7M582.3 458.8V467.5M586.5 457.8V477.5M590.7 463.9V476.1M592.8 456.1V471.3M594.9 450.8V461.9M597.0 449.0V456.6M599.1 445.2V454.2M601.2 434.4V446.1M603.3 429.9V439.8M605.4 426.9V438.1M607.5 419.5V433.4M615.9 425.2V436.3M618.0 420.5V436.7M620.1 420.3V433.8M622.2 420.3V426.9M624.3 419.2V426.9M628.5 418.9V425.5M632.7 433.9V444.0M634.8 431.8V440.6M636.9 422.3V438.1M639.0 418.7V427.3M643.2 418.5V437.9M647.4 412.9V421.9M653.7 422.4V426.7M657.9 417.2V428.7M662.1 417.3V423.8M664.2 414.4V426.1M666.3 408.4V420.3M668.4 398.4V412.0M670.5 398.9V402.8M672.6 397.1V410.3M674.7 391.5V403.3M676.8 378.5V394.5M681.0 380.2V390.2M687.3 385.5V391.2M689.4 369.6V388.5M697.8 393.2V403.2M699.9 386.5V396.5M702.0 379.7V398.4M704.1 379.4V384.3M706.2 378.8V389.6M708.3 381.8V393.4M710.4 381.9V398.9M712.5 383.0V388.1M714.6 380.0V384.3M720.9 384.6V396.9M723.0 390.5V406.0M725.1 392.7V406.9M727.2 392.9V409.9M729.3 387.8V396.0M733.5 381.5V390.9M735.6 373.3V389.7M741.9 376.5V385.6M744.0 369.5V382.7M748.2 375.2V384.9M754.5 384.1V397.0M758.7 386.4V392.3M762.9 387.4V397.6M767.1 379.8V394.3M771.3 382.0V388.8M775.5 375.2V384.9M779.7 374.1V382.7M790.2 372.5V382.0M792.3 358.8V378.5M800.7 373.9V379.6M802.8 374.7V379.8M804.9 372.1V389.6M807.0 376.7V389.9M809.1 369.9V384.7M811.2 367.7V372.4M813.3 362.3V370.0M817.5 364.2V374.8M819.6 343.2V367.6M821.7 338.7V347.6M828.0 340.7V345.3M830.1 335.3V345.1M834.3 322.2V339.4M842.7 336.0V349.0M844.8 340.0V346.9M851.1 351.5V358.9M855.3 357.2V364.9M865.8 366.2V376.5M867.9 364.0V368.5M870.0 364.3V369.3M880.5 378.2V393.8M882.6 377.8V385.9M884.7 375.6V380.5M886.8 369.1V381.5M891.0 366.0V379.5M893.1 352.5V369.2M895.2 355.5V361.5M901.5 361.2V367.4M903.6 358.8V367.4M909.9 356.0V367.5M914.1 353.0V365.7M916.2 352.9V359.0M918.3 346.7V357.0M922.5 352.5V358.8M924.6 355.8V361.2M926.7 352.1V361.7M928.8 337.6V352.7M930.9 335.2V341.3M933.0 331.1V337.5M935.1 333.0V335.5M941.4 345.3V358.0M943.5 339.4V350.4M945.6 339.7V343.0M947.7 339.3V352.7M954.0 361.8V372.2M956.1 362.6V373.0M962.4 356.9V371.8M964.5 357.7V363.4M966.6 355.9V360.5M968.7 354.4V359.5M975.0 360.7V365.8M977.1 356.8V369.6M981.3 355.4V365.8M983.4 354.8V361.7M987.6 353.9V357.5M993.9 360.7V364.1M996.0 351.9V367.4M998.1 352.1V359.9M1000.2 352.6V358.8M1002.3 356.4V363.9M1004.4 358.3V366.6M1006.5 351.2V361.9M1008.6 343.6V352.6M1010.7 340.7V347.0M1012.8 340.9V342.5M1014.9 327.4V343.7M1021.2 340.9V351.3M1023.3 337.0V344.4M1025.4 319.6V342.5M1029.6 323.5V327.4M1031.7 309.6V326.3M1033.8 300.6V310.7M1035.9 295.7V303.4M1042.2 303.9V308.3M1044.3 296.0V305.3M1046.4 294.4V299.3M1048.5 290.1V297.5M1050.6 285.7V293.9M1056.9 286.8V299.0M1061.1 292.8V300.1M1065.3 285.7V296.1M1067.4 274.0V289.4M1069.5 268.7V275.8M1073.7 280.7V286.5M1080.0 286.3V294.2M1086.3 297.7V307.9M1088.4 307.7V314.3M1090.5 304.9V314.0M1092.6 300.6V307.6M1096.8 305.8V315.6M1098.9 294.8V315.4M1101.0 288.0V296.2M1107.3 308.5V313.4M1109.4 308.0V316.5M1117.8 324.9V327.2M1119.9 322.9V329.7M1122.0 317.5V325.1M1124.1 317.1V322.6M1126.2 316.3V321.6M1128.3 314.6V320.2M1130.4 305.8V316.5M1136.7 299.7V310.9M1140.9 288.6V307.8M1143.0 284.0V293.6M1147.2 282.3V289.4M1149.3 266.1V286.7M1151.4 263.5V274.8M1155.6 255.6V270.3M1157.7 251.3V262.1M1159.8 253.3V258.2M1161.9 251.3V254.4M1164.0 249.7V253.8M1168.2 245.3V253.2M1170.3 240.4V249.2M1174.5 233.6V244.3M1176.6 227.4V236.9M1178.7 227.5V233.5M1182.9 224.1V229.9M1185.0 227.4V237.2M1187.1 227.4V241.2M1189.2 226.4V228.6M1191.3 216.8V229.5M1195.5 224.6V230.1M1197.6 223.6V233.1M1208.1 243.2V253.6M1210.2 238.5V245.5M1214.4 231.4V243.3M1216.5 218.2V232.8M1218.6 217.2V223.8M1222.8 225.9V231.4M1227.0 230.4V237.1M1229.1 232.0V238.1M1233.3 221.2V240.4M1235.4 221.0V226.9M1237.5 214.6V229.2M1239.6 199.8V220.8M1243.8 196.4V204.9M1245.9 187.6V200.2M1248.0 185.2V192.2M1250.1 176.9V186.9M1252.2 176.7V190.6M1254.3 185.1V191.7M1256.4 184.6V188.5M1258.5 185.8V197.6M1266.9 235.4V251.2M1269.0 242.6V252.2M1271.1 239.8V246.0M1273.2 240.3V243.3M1281.6 268.0V270.9M1285.8 267.0V280.8M1290.0 272.1V275.0M1292.1 266.4V273.6M1296.3 269.1V284.2M1302.6 300.0V305.6M1304.7 271.6V304.0M1306.8 266.3V278.5M1317.3 273.8V280.3M1319.4 264.1V276.0M1321.5 256.7V268.8M1323.6 252.4V260.8M1327.8 243.3V257.1M1329.9 243.7V248.2M1334.1 236.0V246.5M1336.2 237.9V244.3M1338.3 230.4V239.5M1340.4 232.4V235.6M1344.6 236.3V239.8M1346.7 232.7V241.0M1353.0 231.0V241.6M1355.1 225.2V236.9M1361.4 233.0V241.6" stroke="#45ad2e" stroke-width="1.9" fill="none"/>
<path d="M0.6 542.9V547.7M2.7 539.9V542.9M4.8 532.4V539.9M11.1 535.5V540.7M13.2 533.0V535.5M15.3 530.4V533.0M17.4 530.4V531.6M19.5 515.4V531.6M21.6 502.7V515.4M25.8 510.8V514.7M27.9 490.5V510.8M32.1 492.8V496.4M38.4 495.7V499.8M40.5 494.5V495.7M42.6 493.3V494.5M46.8 495.1V496.3M51.0 491.7V497.5M53.1 491.7V498.5M57.3 506.1V508.0M61.5 491.7V507.3M67.8 507.8V515.5M72.0 501.4V509.0M74.1 500.2V501.4M76.2 500.2V502.0M88.8 502.1V512.5M93.0 503.4V505.2M103.5 520.7V526.0M105.6 516.3V520.7M107.7 508.2V516.3M116.1 526.4V528.5M124.5 548.6V557.3M126.6 557.3V563.8M168.6 654.3V655.5M170.7 646.1V654.3M172.8 646.1V647.3M174.9 636.2V647.3M179.1 632.6V643.3M181.2 623.0V632.6M185.4 617.2V624.2M189.6 615.7V618.9M195.9 609.1V620.3M198.0 598.8V609.1M200.1 598.8V610.8M202.2 594.9V610.8M204.3 584.1V594.9M206.4 564.0V584.1M208.5 564.0V569.2M210.6 566.8V569.2M216.9 572.6V573.8M219.0 567.6V572.6M221.1 565.5V567.6M223.2 561.8V565.5M227.4 564.0V569.4M233.7 566.0V570.0M235.8 566.0V567.3M237.9 565.0V567.3M242.1 552.6V566.2M244.2 552.6V555.9M246.3 547.7V555.9M248.4 546.4V547.7M250.5 541.5V546.4M254.7 546.5V551.5M258.9 544.1V554.8M261.0 524.2V544.1M263.1 521.8V524.2M265.2 516.5V521.8M269.4 519.0V524.2M277.8 528.9V533.4M279.9 524.3V528.9M286.2 532.4V535.7M288.3 529.4V532.4M292.5 534.1V537.6M294.6 528.0V534.1M296.7 521.5V528.0M298.8 519.9V521.5M300.9 516.1V519.9M303.0 516.1V523.2M307.2 520.5V524.4M309.3 520.5V530.0M311.4 530.0V531.2M313.5 526.8V531.2M315.6 526.8V530.3M317.7 529.1V530.3M319.8 520.0V529.1M321.9 517.7V520.0M324.0 514.9V517.7M326.1 501.5V514.9M328.2 501.5V502.7M330.3 501.0V502.7M336.6 493.1V506.9M338.7 485.1V493.1M340.8 480.7V485.1M345.0 474.8V481.9M347.1 473.6V474.8M353.4 488.5V489.7M355.5 488.5V489.7M357.6 480.5V489.7M359.7 480.5V483.1M363.9 486.2V487.7M368.1 477.1V487.4M370.2 472.6V477.1M372.3 466.7V472.6M380.7 474.8V482.0M387.0 492.5V496.2M389.1 491.3V492.5M391.2 484.7V491.3M393.3 474.8V484.7M395.4 474.8V476.0M397.5 474.3V476.0M401.7 474.9V481.1M403.8 473.2V474.9M405.9 473.2V476.3M408.0 475.1V476.3M412.2 476.3V477.5M414.3 474.3V477.5M416.4 468.8V474.3M418.5 465.0V468.8M424.8 471.9V475.4M426.9 469.7V475.4M429.0 461.9V469.7M431.1 459.3V461.9M437.4 459.0V464.0M439.5 459.0V462.4M441.6 456.8V462.4M445.8 453.7V458.0M447.9 452.5V453.7M450.0 450.8V452.5M454.2 457.5V458.7M456.3 456.3V457.5M458.4 453.7V456.3M464.7 456.2V466.3M471.0 458.2V460.7M473.1 455.4V458.2M477.3 456.9V458.1M481.5 459.7V462.6M485.7 456.2V466.3M492.0 458.5V461.6M496.2 463.6V464.8M498.3 460.1V463.6M502.5 467.2V468.7M508.8 480.1V487.4M510.9 480.1V482.4M513.0 477.1V482.4M519.3 480.7V481.9M521.4 474.8V480.7M531.9 483.1V495.0M534.0 476.8V483.1M536.1 476.8V484.0M538.2 482.0V484.0M540.3 471.3V482.0M542.4 470.1V471.3M548.7 472.9V474.1M555.0 475.2V483.5M557.1 471.6V475.2M561.3 470.9V473.9M563.4 469.7V470.9M567.6 468.1V475.5M569.7 465.7V468.1M571.8 464.5V465.7M576.0 464.1V469.4M580.2 465.3V466.5M582.3 463.7V465.3M586.5 470.0V471.2M590.7 465.9V473.3M592.8 457.6V465.9M594.9 454.3V457.6M597.0 450.0V454.3M599.1 446.0V450.0M601.2 436.4V446.0M603.3 434.3V436.4M605.4 428.2V434.3M607.5 422.3V428.2M615.9 428.2V435.8M618.0 428.2V433.5M620.1 426.7V433.5M622.2 421.6V426.7M624.3 419.7V421.6M628.5 422.1V423.3M632.7 439.0V443.0M634.8 436.0V439.0M636.9 425.5V436.0M639.0 423.6V425.5M643.2 420.3V434.8M647.4 415.0V421.8M653.7 424.2V425.4M657.9 421.9V427.6M662.1 418.3V423.1M664.2 417.1V418.3M666.3 409.3V417.1M668.4 402.4V409.3M670.5 401.2V402.4M672.6 400.0V401.2M674.7 392.5V400.0M676.8 388.5V392.5M681.0 381.7V389.7M687.3 386.1V391.0M689.4 373.4V386.1M697.8 395.3V400.0M699.9 394.1V395.3M702.0 383.0V394.1M704.1 381.2V383.0M706.2 381.2V384.3M708.3 384.3V392.6M710.4 387.4V392.6M712.5 384.3V387.4M714.6 380.4V384.3M720.9 385.7V393.7M723.0 393.7V403.3M725.1 399.7V403.3M727.2 395.9V399.7M729.3 388.6V395.9M733.5 381.6V389.8M735.6 374.0V381.6M741.9 377.0V382.7M744.0 373.8V377.0M748.2 376.2V383.7M754.5 387.1V395.0M758.7 388.3V391.3M762.9 392.6V393.8M767.1 382.4V393.8M771.3 382.4V387.8M775.5 376.9V383.6M779.7 374.3V382.4M790.2 376.9V381.5M792.3 359.5V376.9M800.7 375.4V378.3M802.8 375.2V378.3M804.9 375.2V387.2M807.0 384.2V387.2M809.1 370.0V384.2M811.2 368.8V370.0M813.3 367.6V368.8M817.5 365.6V372.3M819.6 344.3V365.6M821.7 338.8V344.3M828.0 343.4V344.6M830.1 335.5V343.4M834.3 324.0V337.0M842.7 342.8V346.5M844.8 342.8V346.2M851.1 353.3V356.9M855.3 360.5V362.4M865.8 368.0V370.1M867.9 364.4V368.0M870.0 364.4V365.6M880.5 383.7V388.2M882.6 379.1V383.7M884.7 377.5V379.1M886.8 373.6V377.5M891.0 368.2V374.8M893.1 360.8V368.2M895.2 355.7V360.8M901.5 362.3V364.7M903.6 359.1V362.3M909.9 358.5V367.5M914.1 356.3V359.7M916.2 355.1V356.3M918.3 348.1V355.1M922.5 353.4V358.5M924.6 357.2V358.5M926.7 352.2V357.2M928.8 341.0V352.2M930.9 335.9V341.0M933.0 334.7V335.9M935.1 333.5V334.7M941.4 348.8V350.0M943.5 343.0V348.8M945.6 341.3V343.0M947.7 341.3V351.2M954.0 365.5V370.7M956.1 365.4V370.7M962.4 363.0V368.9M964.5 360.1V363.0M966.6 357.0V360.1M968.7 355.8V357.0M975.0 364.3V365.5M977.1 358.7V365.5M981.3 361.4V362.6M983.4 355.1V361.4M987.6 355.0V356.3M993.9 362.0V363.2M996.0 353.8V362.0M998.1 353.8V357.8M1000.2 356.6V357.8M1002.3 356.6V362.0M1004.4 360.3V362.0M1006.5 351.5V360.3M1008.6 345.8V351.5M1010.7 341.1V345.8M1012.8 341.1V342.3M1014.9 329.4V342.3M1021.2 343.4V348.4M1023.3 342.2V343.4M1025.4 323.4V342.2M1029.6 323.5V325.4M1031.7 309.9V323.5M1033.8 301.1V309.9M1035.9 299.1V301.1M1042.2 303.9V307.7M1044.3 297.8V303.9M1046.4 295.5V297.8M1048.5 290.8V295.5M1050.6 287.0V290.8M1056.9 292.7V298.9M1061.1 293.7V297.3M1065.3 287.1V296.0M1067.4 274.4V287.1M1069.5 273.2V274.4M1073.7 281.0V285.8M1080.0 289.0V290.2M1086.3 299.1V307.9M1088.4 307.9V310.4M1090.5 305.6V310.4M1092.6 301.5V305.6M1096.8 307.2V310.2M1098.9 296.1V307.2M1101.0 288.4V296.1M1107.3 309.2V311.5M1109.4 310.3V311.5M1117.8 325.6V326.8M1119.9 323.8V325.6M1122.0 321.4V323.8M1124.1 319.8V321.4M1126.2 318.4V319.8M1128.3 314.7V318.4M1130.4 305.9V314.7M1136.7 304.5V310.6M1140.9 292.0V305.9M1143.0 286.6V292.0M1147.2 282.4V287.8M1149.3 273.5V282.4M1151.4 264.0V273.5M1155.6 259.8V270.2M1157.7 255.7V259.8M1159.8 253.5V255.7M1161.9 251.5V253.5M1164.0 250.1V251.5M1168.2 245.9V252.7M1170.3 242.6V245.9M1174.5 236.4V243.8M1176.6 230.5V236.4M1178.7 228.1V230.5M1182.9 228.0V229.3M1185.0 228.0V232.7M1187.1 228.5V232.7M1189.2 227.3V228.5M1191.3 221.6V227.3M1195.5 226.5V228.0M1197.6 225.4V228.0M1208.1 244.9V247.2M1210.2 239.0V244.9M1214.4 232.4V241.3M1216.5 222.9V232.4M1218.6 219.9V222.9M1222.8 226.3V227.8M1227.0 233.2V234.4M1229.1 233.0V234.4M1233.3 224.9V234.2M1235.4 223.7V224.9M1237.5 220.3V223.7M1239.6 202.2V220.3M1243.8 199.6V203.4M1245.9 191.1V199.6M1248.0 186.1V191.1M1250.1 179.7V186.1M1252.2 179.7V186.0M1254.3 186.0V188.4M1256.4 187.2V188.4M1258.5 187.2V197.2M1266.9 239.6V249.4M1269.0 245.6V249.4M1271.1 242.6V245.6M1273.2 241.3V242.6M1281.6 268.3V269.7M1285.8 270.6V278.3M1290.0 273.4V274.6M1292.1 271.6V273.4M1296.3 273.8V281.6M1302.6 302.4V303.8M1304.7 275.8V302.4M1306.8 267.2V275.8M1317.3 275.7V279.6M1319.4 266.7V275.7M1321.5 257.6V266.7M1323.6 254.5V257.6M1327.8 247.5V255.7M1329.9 244.5V247.5M1334.1 240.5V245.7M1336.2 239.3V240.5M1338.3 234.4V239.3M1340.4 233.2V234.4M1344.6 238.0V239.4M1346.7 235.4V239.4M1353.0 234.7V240.2M1355.1 229.7V234.7M1361.4 237.2V239.1M133.4 732.8V767.3M136.9 735.0V768.0M141.0 708.0V742.0M142.2 704.7V739.2M153.6 640.0V700.0M162.4 676.0V712.0M164.8 672.0V700.0M166.0 665.0V700.4M166.9 653.0V690.0M819.2 345.0V376.0M205.0 572.0V598.0" stroke="#45ad2e" stroke-width="2.8" fill="none"/>
</g>
<path d="M1514 211.9H1400Q1395.9 211.9 1395.9 216V247.8Q1395.9 251.9 1400 251.9H1514Z" fill="#a52116"/>
<text stroke="#ffffff" stroke-width="0.35" x="1398.2" y="239.6" font-size="22" font-weight="bold" fill="#ffffff">9,713.880</text>
<rect x="1400" y="386" width="93.6" height="26" rx="3.5" fill="#7af35c"/>
<text stroke="#ffffff" stroke-width="0.6" x="1402.2" y="408.2" font-size="19.8" fill="#ffffff">9,068.169</text>
<rect x="1399.6" y="658.4" width="93.8" height="24.8" rx="3.5" fill="#e8311f"/>
<text stroke="#ffffff" stroke-width="0.6" x="1402.2" y="679.5" font-size="19.8" fill="#ffffff">8,008.169</text>
</svg>
</body>
</html>
